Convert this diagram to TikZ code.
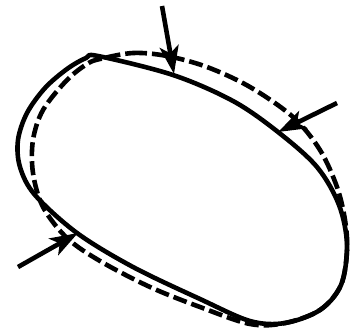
\documentclass[tikz,border=0pt]{standalone}
\usepackage{tikz}
\usetikzlibrary{arrows.meta}

\begin{document}
\begin{tikzpicture}[
    x=1pt, y=-1pt,
    outline/.style={line width=4.6pt, line join=round},
    shifted/.style={line width=4.6pt, dash pattern=on 14pt off 5pt},
    arrow/.style={line width=4.6pt, -{Stealth[length=28pt, width=19pt, inset=7pt]}}
]
\useasboundingbox (0,0) rectangle (361,332);

% Solid outline
\draw[outline] plot[smooth cycle, tension=0.55] coordinates {
    (98,56) (173,75) (233,101) (278,132) (317,167) (339,205) (347,245)
    (341,285) (320,310) (285,323) (250,321) (200,299) (133,267) (77,233)
    (35,195) (20,167) (18,140) (27,113) (45,88) (67,69) (86,58)};

% Dashed outline
\draw[shifted] plot[smooth cycle, tension=0.55] coordinates {
    (100,59) (133,53) (167,56) (207,67) (250,87) (293,117) (320,150)
    (337,187) (345,220) (347,250) (341,285) (320,310) (285,323) (250,324)
    (200,307) (150,287) (100,261) (67,238) (43,207) (33,173) (33,140)
    (43,110) (67,80) (87,64)};

% Arrow end points
\coordinate (topstart) at (162,6);
\coordinate (toptip) at (174,74);
\coordinate (rightstart) at (337,103);
\coordinate (righttip) at (278,132);
\coordinate (leftstart) at (18,267);
\coordinate (lefttip) at (78,233);

% Arrows
\draw[arrow] (topstart) -- (toptip);
\draw[arrow] (rightstart) -- (righttip);
\draw[arrow] (leftstart) -- (lefttip);

\end{tikzpicture}
\end{document}
